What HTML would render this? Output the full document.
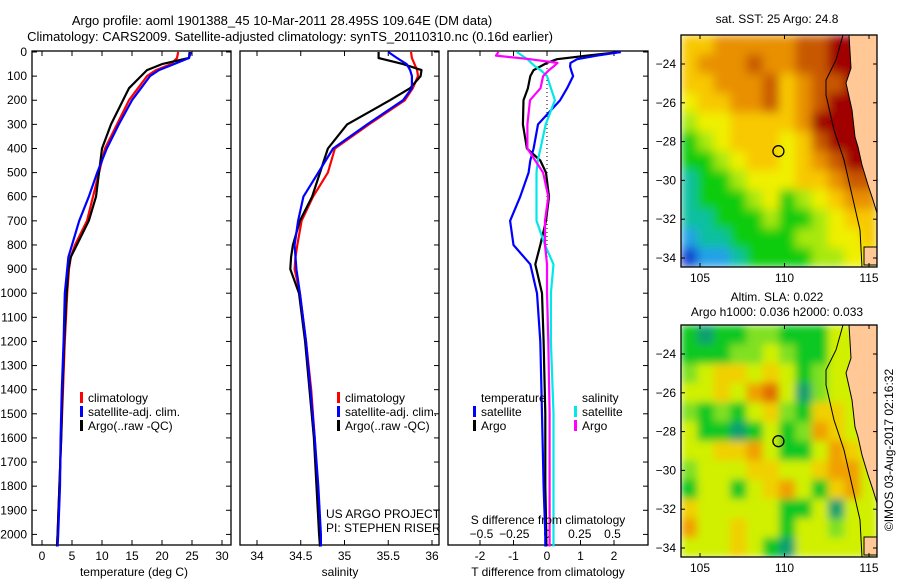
<!DOCTYPE html>
<html><head><meta charset="utf-8"><style>
html,body{margin:0;padding:0;background:#fff;width:900px;height:580px;overflow:hidden}
svg text{font-family:"Liberation Sans",sans-serif;font-size:12px;fill:#000}
</style></head><body>
<svg id="fig" width="900" height="580" xmlns="http://www.w3.org/2000/svg">
<defs>
<filter id="blur1" filterUnits="userSpaceOnUse" x="681" y="35" width="196" height="232"><feGaussianBlur stdDeviation="5" edgeMode="duplicate"/></filter>
<filter id="blur2" filterUnits="userSpaceOnUse" x="681" y="325" width="196" height="232"><feGaussianBlur stdDeviation="4" edgeMode="duplicate"/></filter>
</defs>
<text x="282" y="25" text-anchor="middle" style="font-size:13px">Argo profile: aoml 1901388_45 10-Mar-2011 28.495S 109.64E (DM data)</text>
<text x="290" y="41" text-anchor="middle" style="font-size:13px">Climatology: CARS2009. Satellite-adjusted climatology: synTS_20110310.nc (0.16d earlier)</text>
<g id="g"></g>
</svg>
<script>
// ---- profile data ----
const depthsP = [0,25,50,75,100,150,200,300,400,500,600,700,800,850,900,1000,1200,1400,1600,1800,2000,2050];
const tClim = [22.7,22.5,21.5,19,17.5,16,14.5,12.5,10.5,9.5,8.5,7.5,5.5,4.8,4.5,4.2,3.8,3.5,3.2,2.9,2.6,2.5];
const tSat  = [24.8,24.5,22,19.5,18,16.5,15,12.8,10.8,9.2,7.8,6.2,5,4.4,4.2,3.8,3.6,3.3,3.1,3,2.7,2.6];
const tArgo = [24.6,24.5,20,17.5,16.5,14.5,13.5,11.5,10,9.5,9,7.8,5.8,4.8,4.4,4.1,3.7,3.4,3.2,2.9,2.6,2.5];
const sClim = [35.76,35.77,35.8,35.83,35.84,35.78,35.69,35.28,34.89,34.81,34.64,34.51,34.46,34.44,34.43,34.49,34.56,34.62,34.66,34.69,34.72,34.73];
const sSat  = [35.5,35.6,35.71,35.75,35.77,35.77,35.67,35.26,34.87,34.7,34.53,34.47,34.43,34.44,34.45,34.49,34.56,34.61,34.66,34.7,34.73,34.73];
const sArgo = [35.39,35.39,35.67,35.88,35.87,35.75,35.52,35.03,34.81,34.72,34.63,34.49,34.41,34.39,34.38,34.48,34.55,34.6,34.65,34.68,34.71,34.72];
const depthsD = [0,15,30,45,60,75,100,150,200,300,400,450,500,600,700,800,880,1000,1200,1500,1800,2000,2050];
const dTSat  = [2.2,1.5,0.9,0.7,0.69,0.72,0.78,0.6,0.39,-0.27,-0.4,-0.5,-0.55,-0.8,-1.1,-1.0,-0.5,-0.3,-0.2,-0.15,-0.1,-0.05,-0.05];
const dTArgo = [2.2,1.2,0.3,0,-0.2,-0.4,-0.5,-0.57,-0.7,-0.72,-0.6,-0.2,-0.03,0.06,-0.03,-0.2,-0.35,-0.15,-0.1,-0.05,-0.05,-0.02,-0.02];
const dSSat  = [-0.23,-0.19,-0.15,-0.12,-0.09,-0.05,0.0,0.03,0.06,-0.01,-0.05,-0.07,-0.08,-0.08,-0.08,-0.015,0.05,0.03,0.03,0.05,0.05,0.05,0.05];
const dSArgo = [-0.37,-0.39,-0.13,0.08,0.05,0.015,-0.03,-0.05,-0.13,-0.15,-0.15,-0.09,-0.03,0.01,-0.015,-0.015,0,0,0.01,0.02,0.02,0.02,0.02];
const depthTicks = [0,100,200,300,400,500,600,700,800,900,1000,1100,1200,1300,1400,1500,1600,1700,1800,1900,2000];
const tTicks = [0,5,10,15,20,25,30];
const sTicks = [34,34.5,35,35.5,36];
const dTTicks = [-2,-1,0,1,2];
const dSTicks = [-0.5,-0.25,0,0.25,0.5];
// ---- map data (rows north->south, cols west->east, colour class index) ----
const sstGrid = [
[6,6,7,7,7,7,7,8,8,9,9,9],
[6,7,7,7,8,7,7,8,8,9,9,9],
[6,6,7,7,7,8,6,7,8,8,9,9],
[5,6,6,7,7,8,6,7,8,9,9,9],
[4,5,5,6,6,6,6,7,9,9,9,9],
[3,4,5,6,6,6,5,6,8,9,9,9],
[3,3,4,5,6,6,5,6,7,8,9,9],
[2,3,3,4,5,5,5,6,6,7,8,8],
[2,3,3,3,4,5,3,4,5,6,7,7],
[2,2,3,3,3,4,3,3,4,5,6,6],
[1,2,2,3,3,3,3,4,4,5,5,6],
[0,1,1,2,3,3,3,3,4,4,5,5]];
const slaGrid = [
[1,0,1,1,2,2,1,1,1,3,3,3],
[1,1,1,2,2,3,2,1,1,3,3,3],
[2,3,4,4,3,4,3,1,2,3,3,3],
[3,3,4,3,5,6,3,0,2,3,3,3],
[2,1,2,1,3,4,2,1,4,4,3,3],
[3,1,1,0,1,3,1,2,5,4,3,3],
[3,3,4,4,5,3,1,1,3,5,4,3],
[2,3,3,3,4,4,3,3,4,5,5,3],
[1,3,3,1,3,4,5,3,1,4,5,3],
[4,3,3,3,3,3,1,1,3,0,3,3],
[5,3,3,4,3,3,1,3,3,2,3,3],
[3,3,3,4,3,1,0,3,3,3,3,3]];
const latTicks = [-24,-26,-28,-30,-32,-34];
const lonTicks = [105,110,115];
const argoLon = 109.64, argoLat = -28.495;

const NS='http://www.w3.org/2000/svg';
const G=document.getElementById('g');
function mk(tag,attrs,parent){const e=document.createElementNS(NS,tag);for(const k in attrs)e.setAttribute(k,attrs[k]);(parent||G).appendChild(e);return e;}
function txt(s,x,y,anchor,parent){const t=mk('text',{x:x,y:y,'text-anchor':anchor||'start'},parent);t.textContent=s;return t;}

const Y0=52, PY=0.2412;
const yD=d=>Y0+d*PY;
const xT=v=>42+v*6;
const xS=v=>257+(v-34)*87.5;
const xDT=v=>547+v*33.5;
const xDS=v=>547+v*131;

const panels=[{x0:32,x1:231,name:'temperature-panel'},{x0:240,x1:439,name:'salinity-panel'},{x0:448,x1:648,name:'difference-panel'}];
const TOP=51,BOT=545;
panels.forEach((p,i)=>{
  const r=mk('rect',{x:p.x0,y:TOP,width:p.x1-p.x0,height:BOT-TOP,fill:'none',stroke:'#000','stroke-width':1.3});
  
  
  depthTicks.forEach(d=>{
    mk('line',{x1:p.x1-5,x2:p.x1,y1:yD(d),y2:yD(d),stroke:'#000'});
    if(i===0) mk('line',{x1:p.x0,x2:p.x0+5,y1:yD(d),y2:yD(d),stroke:'#000'});
  });
});
depthTicks.forEach(d=>{const t=txt(String(d),27,yD(d)+4,'end');
  
  });

function xticks(ticks,fx,labY,fmt,top){
  ticks.forEach(v=>{const x=fx(v);
    mk('line',{x1:x,x2:x,y1:BOT-5,y2:BOT,stroke:'#000'});
    if(top) mk('line',{x1:x,x2:x,y1:TOP,y2:TOP+5,stroke:'#000'});
    const t=txt(fmt?fmt(v):String(v),x,labY,'middle');
    
    
  });
}
xticks(tTicks,xT,560,null,true);
xticks(sTicks,xS,560,null,true);
xticks(dTTicks,xDT,560,null,true);
dSTicks.forEach(v=>{const t=txt(v<0?'\u2212'+Math.abs(v):String(v),xDS(v),538,'middle');
  
  });

function line(vals,depths,fx,color,name,w){
  const pts=vals.map((v,i)=>fx(v).toFixed(1)+','+yD(depths[i]).toFixed(1)).join(' ');
  const e=mk('polyline',{points:pts,fill:'none',stroke:color,'stroke-width':w||2.2,'stroke-linejoin':'round'});
  
  
}
line(tClim,depthsP,xT,'#ff0000','temp-climatology-line');
line(tArgo,depthsP,xT,'#000000','temp-argo-line');
line(tSat,depthsP,xT,'#0000ff','temp-satellite-line');
line(sClim,depthsP,xS,'#ff0000','sal-climatology-line');
line(sArgo,depthsP,xS,'#000000','sal-argo-line');
line(sSat,depthsP,xS,'#0000ff','sal-satellite-line');
mk('line',{x1:547,x2:547,y1:yD(50),y2:yD(1000),stroke:'#000','stroke-dasharray':'1,3'});
line(dTArgo,depthsD,xDT,'#000000','tdiff-argo-line');
line(dTSat,depthsD,xDT,'#0000ff','tdiff-satellite-line');
line(dSSat,depthsD,xDS,'#00e8e8','sdiff-satellite-line');
line(dSArgo,depthsD,xDS,'#ff00ff','sdiff-argo-line');

function leg(x,y,c,s,name){mk('rect',{x:x,y:y-10,width:3,height:11,fill:c});const t=txt(s,x+8,y);
  
  }
[[80,'temperature'],[337,'salinity']].forEach(([x,n])=>{
  leg(x,402,'#ff0000','climatology',n+'-legend-climatology');
  leg(x,416,'#0000ff','satellite-adj. clim.',n+'-legend-satellite');
  leg(x,430,'#000000','Argo(..raw -QC)',n+'-legend-argo');
});
txt('temperature',481,402);txt('salinity',582,402);
leg(473,416,'#0000ff','satellite','diff-legend-t-satellite');
leg(473,430,'#000000','Argo','diff-legend-t-argo');
leg(574,416,'#00e8e8','satellite','diff-legend-s-satellite');
leg(574,430,'#ff00ff','Argo','diff-legend-s-argo');
txt('US ARGO PROJECT',326,518);txt('PI: STEPHEN RISER',326,532);
txt('S difference from climatology',548,524,'middle');
const xl1=txt('temperature (deg C)',134,576,'middle');


const xl2=txt('salinity',340,576,'middle');


const xl3=txt('T difference from climatology',548,576,'middle');



const sstCols=['#1040d0','#20a0e8','#10c0a0','#10cc10','#a8e810','#f0f000','#f8c800','#e89000','#c85800','#a00000'];
const slaCols=['#10a070','#10c820','#80e020','#d0f000','#f0d000','#f0a000','#e07000'];
const MX0=681,MX1=877,PX=16.9,PYM=19.4;
function drawMap(top,grid,cols,name,title1,title2,filt){
  const grp=mk('g',{});
  
  
  const lx=l=>700+(l-105)*PX, ly=l=>top+29+(-24-l)*PYM;
  const bot=top+232;
  const cw=(MX1-MX0)/grid[0].length, ch=(bot-top)/grid.length;
  const cells=mk('g',{filter:'url(#'+filt+')'},grp);
  grid.forEach((row,r)=>row.forEach((v,c)=>{
    const cell=mk('rect',{x:MX0+c*cw,y:top+r*ch,width:cw+0.5,height:ch+0.5,fill:cols[v]},cells);
    
    
  }));
  mk('polygon',{points:`849,${top} ${MX1},${top} ${MX1},${top+178} 873,${top+165} 868,${top+150} 862,${top+130} 858,${top+112} 855,${top+102} 852,${top+75} 846,${top+48} 851,${top+33}`,fill:'#ffc896',stroke:'#000','stroke-width':1},grp);
  mk('polyline',{points:`843,${top} 836,${top+25} 826,${top+45} 826,${top+60} 834,${top+95} 844,${top+125} 852,${top+160} 860,${top+195} 862,${top+232}`,fill:'none',stroke:'#000','stroke-width':1},grp);
  mk('rect',{x:864,y:top+212,width:13,height:18,fill:'#ffc896',stroke:'#000'},grp);
  mk('rect',{x:MX0,y:top,width:MX1-MX0,height:232,fill:'none',stroke:'#000','stroke-width':1.3},grp);
  latTicks.forEach(l=>{const y=ly(l);
    mk('line',{x1:MX0,x2:MX0+4,y1:y,y2:y,stroke:'#000'},grp);mk('line',{x1:MX1-4,x2:MX1,y1:y,y2:y,stroke:'#000'},grp);
    txt('\u2212'+Math.abs(l),676,y+4,'end',grp);});
  lonTicks.forEach(l=>{const x=lx(l);
    mk('line',{x1:x,x2:x,y1:top,y2:top+4,stroke:'#000'},grp);mk('line',{x1:x,x2:x,y1:bot-4,y2:bot,stroke:'#000'},grp);
    txt(String(l),x,bot+15,'middle',grp);});
  const c=mk('circle',{cx:lx(argoLon),cy:ly(argoLat),r:5.5,fill:'none',stroke:'#000','stroke-width':1.3},grp);
  
  
  if(title2){txt(title1,777,top-24,'middle',grp);txt(title2,777,top-9,'middle',grp);}
  else txt(title1,777,top-12,'middle',grp);
}
drawMap(35,sstGrid,sstCols,'sst-map','sat. SST: 25 Argo: 24.8',null,'blur1');
drawMap(325,slaGrid,slaCols,'sla-map','Altim. SLA: 0.022','Argo h1000: 0.036 h2000: 0.033','blur2');
const cr=txt('\u00A9IMOS 03-Aug-2017 02:16:32',0,0,'middle');
cr.setAttribute('transform','translate(893,450) rotate(-90)');


</script>
</body></html>
